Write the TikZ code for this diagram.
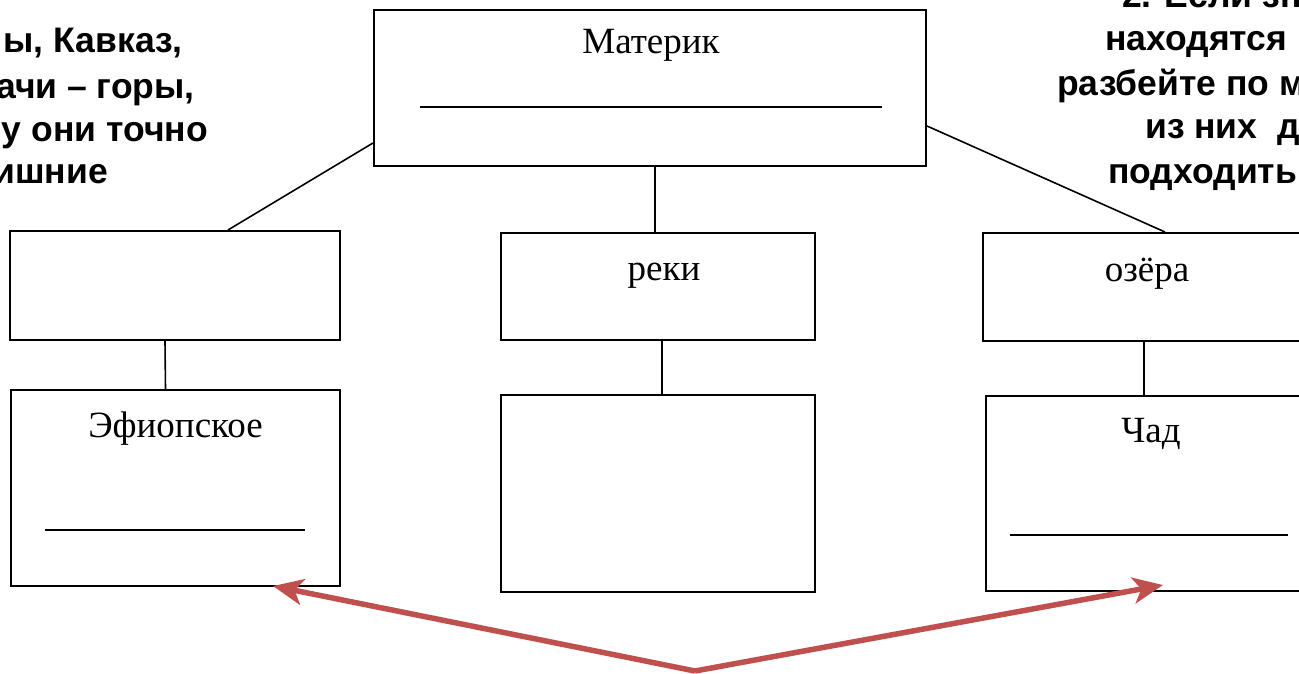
\documentclass[tikz,border=0pt]{standalone}
\usepackage{fontspec}
\setmainfont{Liberation Serif}
\newfontfamily\arialfont{Liberation Sans}
\usetikzlibrary{arrows.meta}
\definecolor{arrowred}{HTML}{C0504D}
\begin{document}
\begin{tikzpicture}[x=1pt,y=-1pt,
  box/.style={draw=black,line width=2pt,inner sep=0pt},
  link/.style={draw=black,line width=1.6pt},
  blank/.style={draw=black,line width=1.8pt},
  lbl/.style={font=\fontsize{37}{40}\selectfont,anchor=base,inner sep=0pt},
  note/.style={font=\arialfont\bfseries\fontsize{35.5}{40}\selectfont,inner sep=0pt},
  redarrow/.style={draw=arrowred,line width=5.5pt,-{Triangle[length=30pt,width=26pt,inset=8pt]}}]
\useasboundingbox (0,0) rectangle (1299,673);
\clip (0,0) rectangle (1299,673);
\fill[white] (0,0) rectangle (1299,673);
% boxes
\node[box,minimum width=552pt,minimum height=156pt] (top) at (650,88) {};
\node[box,minimum width=330pt,minimum height=109pt] (lm) at (175,285.5) {};
\node[box,minimum width=329pt,minimum height=196pt] (lb) at (175.5,488) {};
\node[box,minimum width=314pt,minimum height=107pt] (cm) at (658,286.5) {};
\node[box,minimum width=314pt,minimum height=197pt] (cb) at (658,493.5) {};
\node[box,minimum width=332pt,minimum height=108pt] (rm) at (1149,287) {};
\node[box,minimum width=332pt,minimum height=195pt] (rb) at (1152,493.5) {};
% labels
\node[lbl] (tmat) at (651,53) {Материк};
\node[lbl] (trek) at (664,280) {реки};
\node[lbl] (toz) at (1147,281) {озёра};
\node[lbl] (tef) at (175.5,437) {Эфиопское};
\node[lbl] (tchad) at (1151,442) {Чад};
% blanks
\draw[blank] (420,107) -- (882,107);
\draw[blank] (45,530) -- (305,530);
\draw[blank] (1010,535) -- (1288,535);
% connectors
\draw[link] ([yshift=24pt]top.south west) -- ([xshift=53pt]lm.north);
\draw[link] ([yshift=41pt]top.south east) -- ([xshift=16pt]rm.north);
\draw[link] ([xshift=5pt]top.south) -- ([xshift=-3pt]cm.north);
\draw[link] ([xshift=-10pt]lm.south) -- ([xshift=-10pt]lb.north);
\draw[link] ([xshift=4pt]cm.south) -- ([xshift=4pt]cb.north);
\draw[link] ([xshift=-5pt]rm.south) -- ([xshift=-8pt]rb.north);
% red arrows
\coordinate (apex) at (695,671);
\coordinate (ltip) at (273,586);
\coordinate (rtip) at (1163,585);
\draw[redarrow] (apex) -- (ltip);
\draw[redarrow] (apex) -- (rtip);
% notes left
\node[note,anchor=base east] (l1) at (183,52) {ы, Кавказ,};
\node[note,anchor=base east] (l2) at (195,98) {ачи – горы,};
\node[note,anchor=base east] (l3) at (208,141) {у они точно};
\node[note,anchor=base east] (l4) at (108,183) {ишние};
% notes right
\node[note,anchor=base west] (r0) at (1122,7) {2. Если зн};
\node[note,anchor=base west] (r1) at (1105,50) {находятся};
\node[note,anchor=base west] (r2) at (1057,95) {разбейте по м};
\node[note,anchor=base west] (r3) at (1145,138) {из них\ \ д};
\node[note,anchor=base west] (r4) at (1108,183) {подходить};
\end{tikzpicture}
\end{document}
